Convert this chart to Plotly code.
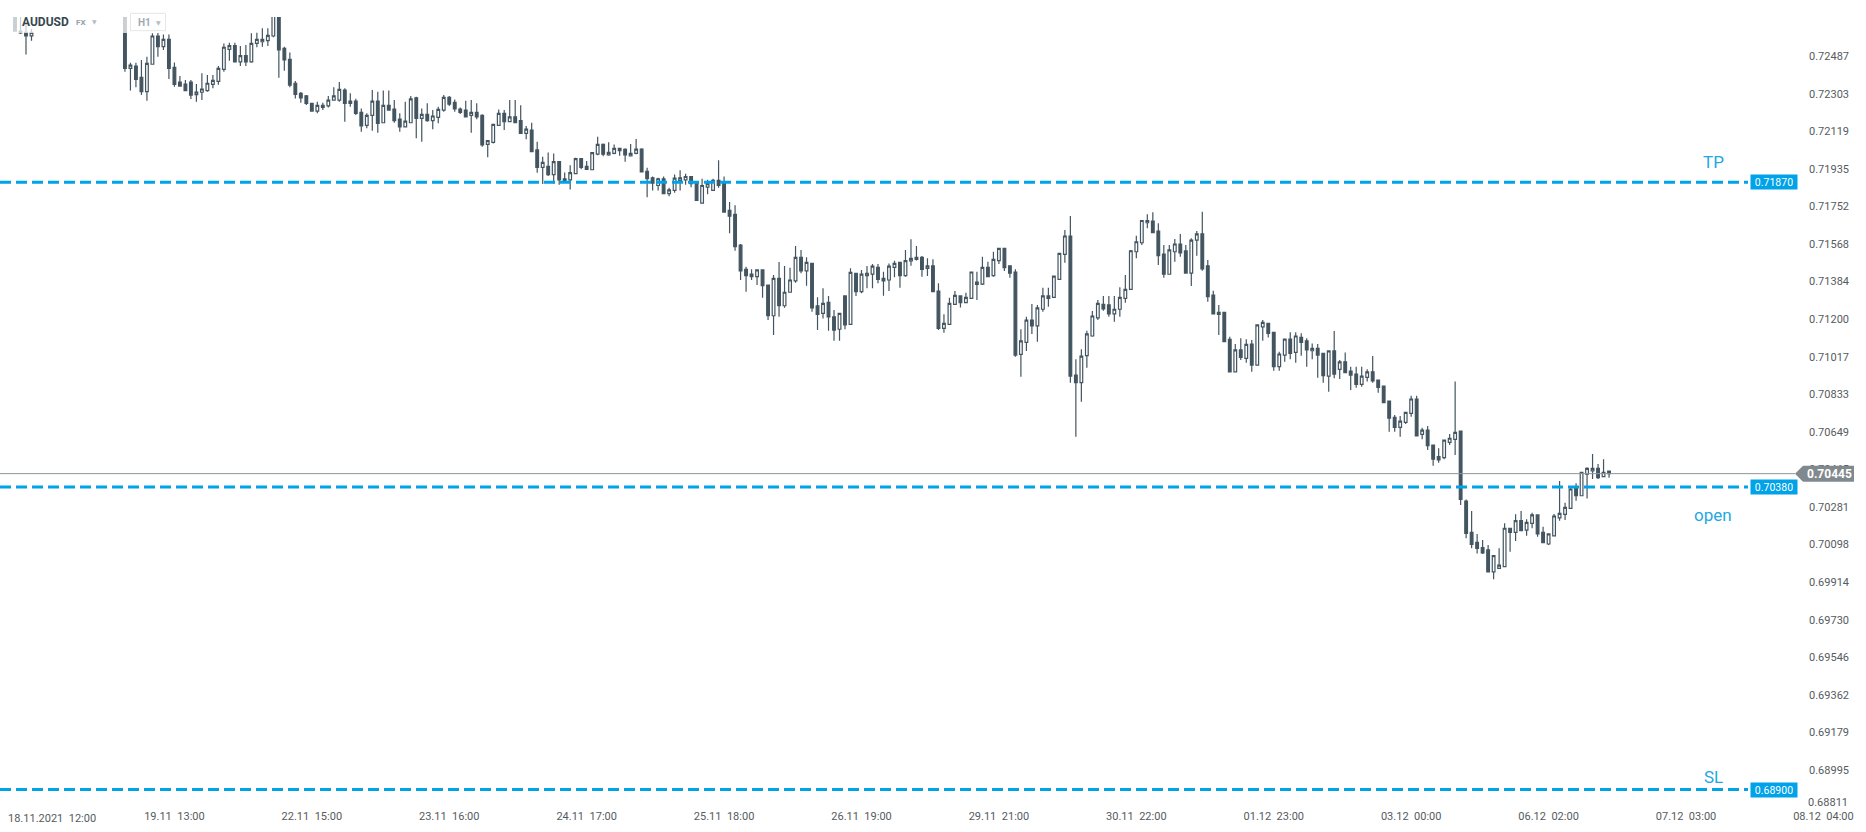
import plotly.graph_objects as go

# ---------------- data ----------------
symbol = "AUDUSD"
market = "FX"
timeframe = "H1"

first_bar = -4  # bar index of first candle (index 0 = 18.11.2021 12:00)
# bars 0..15 lie entirely above the visible price range -> not readable (None)
opens = [0.72700, 0.72600, 0.72603, 0.72586] + [None] * 16 + [
    0.72700, 0.72427, 0.72438, 0.72383, 0.72313, 0.72447, 0.72585, 0.72533, 0.72569, 0.72432,
    0.72360, 0.72350, 0.72360, 0.72298, 0.72310, 0.72318, 0.72349, 0.72363, 0.72422, 0.72520,
    0.72538, 0.72459, 0.72489, 0.72459, 0.72549, 0.72557, 0.72562, 0.72585, 0.72690, 0.72525,
    0.72471, 0.72354, 0.72305, 0.72292, 0.72256, 0.72218, 0.72236, 0.72243, 0.72272, 0.72272,
    0.72321, 0.72256, 0.72267, 0.72212, 0.72148, 0.72197, 0.72267, 0.72161, 0.72246, 0.72228,
    0.72179, 0.72141, 0.72161, 0.72283, 0.72182, 0.72202, 0.72171, 0.72187, 0.72223, 0.72285,
    0.72261, 0.72228, 0.72223, 0.72197, 0.72212, 0.72197, 0.72055, 0.72065, 0.72148, 0.72207,
    0.72166, 0.72190, 0.72171, 0.72109, 0.72125, 0.72028, 0.71943, 0.71948, 0.71907, 0.71971,
    0.71887, 0.71882, 0.71912, 0.71985, 0.71948, 0.71931, 0.72007, 0.72055, 0.72004, 0.72011,
    0.72036, 0.72031, 0.71999, 0.72011, 0.72032, 0.71923, 0.71892, 0.71854, 0.71887, 0.71814,
    0.71830, 0.71879, 0.71882, 0.71898, 0.71863, 0.71768, 0.71846, 0.71830, 0.71879, 0.71866,
    0.71732, 0.71713, 0.71563, 0.71444, 0.71421, 0.71408, 0.71441, 0.71367, 0.71217, 0.71400,
    0.71266, 0.71332, 0.71388, 0.71503, 0.71437, 0.71473, 0.71265, 0.71229, 0.71283, 0.71212,
    0.71151, 0.71314, 0.71175, 0.71425, 0.71335, 0.71413, 0.71421, 0.71454, 0.71400, 0.71392,
    0.71454, 0.71478, 0.71413, 0.71485, 0.71493, 0.71503, 0.71449, 0.71461, 0.71338, 0.71155,
    0.71175, 0.71273, 0.71314, 0.71281, 0.71302, 0.71371, 0.71372, 0.71454, 0.71413, 0.71487,
    0.71547, 0.71461, 0.71431, 0.71028, 0.71087, 0.71196, 0.71168, 0.71249, 0.71314, 0.71307,
    0.71395, 0.71517, 0.71607, 0.70927, 0.70890, 0.71022, 0.71118, 0.71207, 0.71273, 0.71270,
    0.71226, 0.71249, 0.71302, 0.71346, 0.71530, 0.71574, 0.71672, 0.71680, 0.71631, 0.71519,
    0.71420, 0.71530, 0.71568, 0.71534, 0.71426, 0.71587, 0.71617, 0.71461, 0.71318, 0.71224,
    0.71234, 0.71102, 0.70943, 0.71050, 0.71009, 0.71079, 0.70976, 0.71163, 0.71180, 0.71136,
    0.70968, 0.71025, 0.71103, 0.71038, 0.71111, 0.71094, 0.71046, 0.71058, 0.71033, 0.70922,
    0.71045, 0.70955, 0.70992, 0.70947, 0.70932, 0.70882, 0.70916, 0.70943, 0.70903, 0.70873,
    0.70800, 0.70720, 0.70671, 0.70696, 0.70740, 0.70810, 0.70637, 0.70658, 0.70585, 0.70528,
    0.70523, 0.70598, 0.70613, 0.70653, 0.70311, 0.70158, 0.70109, 0.70083, 0.70072, 0.69965,
    0.69982, 0.69990, 0.70178, 0.70158, 0.70215, 0.70169, 0.70202, 0.70243, 0.70158, 0.70101,
    0.70141, 0.70229, 0.70246, 0.70275, 0.70373, 0.70337, 0.70442, 0.70459, 0.70471, 0.70430,
    0.70458,
]
highs = [0.72720, 0.72700, 0.72640, 0.72620] + [None] * 16 + [
    0.72720, 0.72454, 0.72454, 0.72468, 0.72484, 0.72598, 0.72600, 0.72593, 0.72593, 0.72456,
    0.72389, 0.72370, 0.72370, 0.72350, 0.72403, 0.72394, 0.72394, 0.72438, 0.72549, 0.72552,
    0.72552, 0.72536, 0.72541, 0.72598, 0.72601, 0.72623, 0.72623, 0.72720, 0.72730, 0.72533,
    0.72505, 0.72365, 0.72311, 0.72296, 0.72259, 0.72264, 0.72259, 0.72292, 0.72334, 0.72360,
    0.72329, 0.72305, 0.72278, 0.72231, 0.72207, 0.72321, 0.72313, 0.72318, 0.72318, 0.72272,
    0.72207, 0.72264, 0.72292, 0.72288, 0.72231, 0.72256, 0.72223, 0.72239, 0.72296, 0.72292,
    0.72275, 0.72236, 0.72269, 0.72272, 0.72256, 0.72202, 0.72076, 0.72153, 0.72226, 0.72223,
    0.72272, 0.72272, 0.72246, 0.72145, 0.72161, 0.72068, 0.71995, 0.72015, 0.72010, 0.71971,
    0.71918, 0.71953, 0.71990, 0.71985, 0.71974, 0.72015, 0.72092, 0.72060, 0.72065, 0.72055,
    0.72036, 0.72036, 0.72057, 0.72081, 0.72036, 0.71941, 0.71898, 0.71892, 0.71898, 0.71843,
    0.71908, 0.71928, 0.71912, 0.71898, 0.71866, 0.71887, 0.71882, 0.71887, 0.71977, 0.71898,
    0.71773, 0.71757, 0.71568, 0.71457, 0.71444, 0.71441, 0.71441, 0.71367, 0.71416, 0.71480,
    0.71460, 0.71452, 0.71558, 0.71539, 0.71503, 0.71473, 0.71307, 0.71351, 0.71314, 0.71245,
    0.71229, 0.71314, 0.71449, 0.71425, 0.71441, 0.71460, 0.71470, 0.71470, 0.71432, 0.71473,
    0.71486, 0.71478, 0.71539, 0.71591, 0.71558, 0.71509, 0.71498, 0.71493, 0.71376, 0.71224,
    0.71305, 0.71338, 0.71314, 0.71330, 0.71431, 0.71432, 0.71506, 0.71481, 0.71530, 0.71547,
    0.71547, 0.71461, 0.71444, 0.71151, 0.71212, 0.71274, 0.71270, 0.71354, 0.71354, 0.71411,
    0.71522, 0.71636, 0.71705, 0.71004, 0.71053, 0.71144, 0.71240, 0.71294, 0.71314, 0.71314,
    0.71314, 0.71356, 0.71416, 0.71539, 0.71608, 0.71683, 0.71714, 0.71723, 0.71669, 0.71563,
    0.71563, 0.71592, 0.71617, 0.71563, 0.71596, 0.71631, 0.71726, 0.71490, 0.71339, 0.71270,
    0.71234, 0.71115, 0.71079, 0.71107, 0.71102, 0.71098, 0.71172, 0.71196, 0.71180, 0.71136,
    0.71041, 0.71103, 0.71137, 0.71136, 0.71131, 0.71107, 0.71082, 0.71079, 0.71033, 0.71045,
    0.71142, 0.71001, 0.71038, 0.70968, 0.70968, 0.70968, 0.70955, 0.71020, 0.70903, 0.70873,
    0.70800, 0.70732, 0.70727, 0.70745, 0.70826, 0.70826, 0.70670, 0.70678, 0.70585, 0.70569,
    0.70609, 0.70639, 0.70896, 0.70653, 0.70319, 0.70262, 0.70150, 0.70120, 0.70096, 0.70047,
    0.70080, 0.70202, 0.70178, 0.70246, 0.70262, 0.70222, 0.70254, 0.70246, 0.70185, 0.70150,
    0.70248, 0.70409, 0.70303, 0.70385, 0.70398, 0.70451, 0.70476, 0.70541, 0.70492, 0.70515,
    0.70458,
]
lows = [0.72609, 0.72595, 0.72495, 0.72562] + [None] * 16 + [
    0.72410, 0.72318, 0.72334, 0.72296, 0.72269, 0.72447, 0.72484, 0.72517, 0.72375, 0.72337,
    0.72337, 0.72318, 0.72277, 0.72264, 0.72272, 0.72313, 0.72329, 0.72347, 0.72410, 0.72464,
    0.72459, 0.72438, 0.72438, 0.72454, 0.72530, 0.72533, 0.72536, 0.72579, 0.72381, 0.72415,
    0.72334, 0.72280, 0.72259, 0.72248, 0.72215, 0.72207, 0.72223, 0.72236, 0.72269, 0.72264,
    0.72166, 0.72239, 0.72199, 0.72117, 0.72134, 0.72122, 0.72112, 0.72161, 0.72223, 0.72161,
    0.72117, 0.72141, 0.72161, 0.72085, 0.72068, 0.72166, 0.72129, 0.72158, 0.72215, 0.72243,
    0.72215, 0.72204, 0.72187, 0.72112, 0.72178, 0.72044, 0.71992, 0.72060, 0.72145, 0.72125,
    0.72163, 0.72161, 0.72109, 0.72080, 0.72019, 0.71916, 0.71861, 0.71900, 0.71863, 0.71858,
    0.71866, 0.71835, 0.71912, 0.71933, 0.71933, 0.71928, 0.72002, 0.71997, 0.71999, 0.72007,
    0.71999, 0.71970, 0.71999, 0.72007, 0.71920, 0.71797, 0.71830, 0.71830, 0.71814, 0.71801,
    0.71819, 0.71830, 0.71858, 0.71846, 0.71778, 0.71768, 0.71811, 0.71827, 0.71843, 0.71724,
    0.71621, 0.71535, 0.71392, 0.71335, 0.71392, 0.71367, 0.71305, 0.71196, 0.71123, 0.71212,
    0.71256, 0.71332, 0.71379, 0.71425, 0.71364, 0.71237, 0.71147, 0.71204, 0.71144, 0.71095,
    0.71095, 0.71151, 0.71175, 0.71314, 0.71327, 0.71351, 0.71351, 0.71376, 0.71315, 0.71338,
    0.71405, 0.71354, 0.71408, 0.71461, 0.71487, 0.71408, 0.71411, 0.71335, 0.71147, 0.71134,
    0.71175, 0.71270, 0.71258, 0.71281, 0.71302, 0.71294, 0.71367, 0.71408, 0.71408, 0.71470,
    0.71436, 0.71403, 0.71017, 0.70919, 0.71045, 0.71128, 0.71090, 0.71237, 0.71261, 0.71307,
    0.71392, 0.71476, 0.70890, 0.70625, 0.70797, 0.70963, 0.71115, 0.71196, 0.71242, 0.71212,
    0.71188, 0.71212, 0.71281, 0.71343, 0.71498, 0.71563, 0.71645, 0.71623, 0.71465, 0.71403,
    0.71420, 0.71481, 0.71506, 0.71426, 0.71362, 0.71511, 0.71437, 0.71286, 0.71226, 0.71123,
    0.71090, 0.70943, 0.70943, 0.71001, 0.70987, 0.70943, 0.70976, 0.71095, 0.71111, 0.70948,
    0.70948, 0.70992, 0.71005, 0.70987, 0.71022, 0.70968, 0.71005, 0.70914, 0.70890, 0.70846,
    0.70911, 0.70908, 0.70936, 0.70854, 0.70865, 0.70870, 0.70896, 0.70890, 0.70841, 0.70792,
    0.70650, 0.70650, 0.70625, 0.70688, 0.70723, 0.70630, 0.70613, 0.70561, 0.70484, 0.70498,
    0.70515, 0.70585, 0.70536, 0.70292, 0.70129, 0.70080, 0.70055, 0.70052, 0.69965, 0.69928,
    0.69982, 0.69990, 0.70063, 0.70116, 0.70166, 0.70141, 0.70178, 0.70137, 0.70107, 0.70096,
    0.70141, 0.70215, 0.70218, 0.70272, 0.70313, 0.70337, 0.70324, 0.70419, 0.70419, 0.70430,
    0.70425,
]
closes = [0.72609, 0.72609, 0.72586, 0.72603] + [None] * 16 + [
    0.72427, 0.72443, 0.72373, 0.72313, 0.72451, 0.72585, 0.72533, 0.72569, 0.72427, 0.72349,
    0.72340, 0.72318, 0.72296, 0.72311, 0.72326, 0.72354, 0.72368, 0.72427, 0.72530, 0.72538,
    0.72459, 0.72489, 0.72459, 0.72549, 0.72569, 0.72569, 0.72588, 0.72690, 0.72517, 0.72468,
    0.72345, 0.72300, 0.72283, 0.72256, 0.72218, 0.72246, 0.72246, 0.72272, 0.72292, 0.72324,
    0.72256, 0.72267, 0.72207, 0.72145, 0.72197, 0.72267, 0.72158, 0.72246, 0.72223, 0.72171,
    0.72141, 0.72169, 0.72278, 0.72182, 0.72202, 0.72171, 0.72194, 0.72226, 0.72285, 0.72252,
    0.72228, 0.72212, 0.72190, 0.72212, 0.72190, 0.72052, 0.72073, 0.72153, 0.72207, 0.72166,
    0.72190, 0.72161, 0.72109, 0.72130, 0.72019, 0.71943, 0.71967, 0.71907, 0.71971, 0.71882,
    0.71874, 0.71917, 0.71985, 0.71943, 0.71933, 0.72015, 0.72055, 0.72007, 0.72016, 0.72036,
    0.72024, 0.72004, 0.72011, 0.72032, 0.71920, 0.71887, 0.71866, 0.71887, 0.71814, 0.71833,
    0.71890, 0.71892, 0.71898, 0.71863, 0.71781, 0.71854, 0.71863, 0.71879, 0.71854, 0.71724,
    0.71704, 0.71555, 0.71437, 0.71413, 0.71408, 0.71441, 0.71364, 0.71217, 0.71400, 0.71266,
    0.71332, 0.71392, 0.71503, 0.71437, 0.71478, 0.71256, 0.71224, 0.71278, 0.71212, 0.71147,
    0.71229, 0.71172, 0.71429, 0.71335, 0.71421, 0.71425, 0.71460, 0.71395, 0.71388, 0.71460,
    0.71473, 0.71413, 0.71487, 0.71498, 0.71503, 0.71444, 0.71461, 0.71335, 0.71155, 0.71180,
    0.71278, 0.71317, 0.71281, 0.71307, 0.71431, 0.71382, 0.71454, 0.71408, 0.71493, 0.71547,
    0.71452, 0.71425, 0.71025, 0.71094, 0.71196, 0.71168, 0.71256, 0.71314, 0.71302, 0.71411,
    0.71522, 0.71607, 0.70922, 0.70890, 0.71020, 0.71128, 0.71216, 0.71278, 0.71250, 0.71226,
    0.71249, 0.71307, 0.71346, 0.71535, 0.71579, 0.71683, 0.71683, 0.71623, 0.71511, 0.71420,
    0.71539, 0.71568, 0.71525, 0.71426, 0.71587, 0.71617, 0.71446, 0.71310, 0.71226, 0.71234,
    0.71090, 0.70943, 0.71050, 0.71014, 0.71077, 0.70976, 0.71172, 0.71185, 0.71131, 0.70968,
    0.71030, 0.71103, 0.71033, 0.71118, 0.71087, 0.71050, 0.71058, 0.71025, 0.70924, 0.71045,
    0.70932, 0.70992, 0.70939, 0.70927, 0.70882, 0.70922, 0.70943, 0.70899, 0.70867, 0.70792,
    0.70716, 0.70671, 0.70702, 0.70745, 0.70810, 0.70630, 0.70658, 0.70582, 0.70516, 0.70512,
    0.70609, 0.70618, 0.70647, 0.70319, 0.70153, 0.70099, 0.70080, 0.70058, 0.69965, 0.70044,
    0.69998, 0.70178, 0.70158, 0.70215, 0.70166, 0.70207, 0.70243, 0.70150, 0.70107, 0.70150,
    0.70238, 0.70251, 0.70280, 0.70370, 0.70337, 0.70451, 0.70471, 0.70471, 0.70425, 0.70451,
    0.70445,
]
bar_index = list(range(first_bar, first_bar + len(opens)))

x_tick_bars = [25, 50, 75, 100, 125, 150, 175, 200, 225, 250, 275, 300, 325]
x_tick_text = ["19.11  13:00", "22.11  15:00", "23.11  16:00", "24.11  17:00", "25.11  18:00",
               "26.11  19:00", "29.11  21:00", "30.11  22:00", "01.12  23:00", "03.12  00:00",
               "06.12  02:00", "07.12  03:00", "08.12  04:00"]
first_x_label = "18.11.2021  12:00"

y_ticks = [0.72487, 0.72303, 0.72119, 0.71935, 0.71752, 0.71568, 0.71384, 0.71200, 0.71017,
           0.70833, 0.70649, 0.70465, 0.70281, 0.70098, 0.69914, 0.69730, 0.69546, 0.69362,
           0.69179, 0.68995]
y_tick_bottom = 0.68811  # drawn nudged upward (as in the reference) to clear the time axis

level_names = ["TP", "open", "SL"]
level_values = [0.71870, 0.70380, 0.68900]
current_price = 0.70445

# ---------------- style / layout ----------------
W, H = 1866, 832
ML, MR, MT, MB = 0, 14, 17, 24
PW, PH = W - ML - MR, H - MT - MB
CANDLE = "#435560"
BLUE = "#00a2e8"
BLUE_TXT = "#22a7e3"
GRAY_TAG = "#80898e"
TICK_COLOR = "#555b60"
FONT = "Roboto"


def px_x(x):
    return (x - ML) / PW


def px_y(y):
    return (H - MB - y) / PH


def nbsp(s):
    return s.replace("  ", "\u00a0\u00a0")


fig = go.Figure()
fig.add_trace(go.Candlestick(
    x=bar_index, open=opens, high=highs, low=lows, close=closes,
    increasing=dict(line=dict(color=CANDLE, width=1.2), fillcolor="#ffffff"),
    decreasing=dict(line=dict(color=CANDLE, width=1.2), fillcolor=CANDLE),
    whiskerwidth=0, hoverinfo="skip", showlegend=False,
))

shapes = []
annotations = []

# horizontal order levels
label_offsets = {"TP": 20, "open": -28, "SL": 13}
for name, val in zip(level_names, level_values):
    shapes.append(dict(type="line", xref="paper", yref="y", x0=0, x1=px_x(1748), y0=val, y1=val,
                       line=dict(color=BLUE, width=3, dash="11px,5px"), layer="above"))
    annotations.append(dict(xref="paper", yref="y", x=px_x(1713), y=val, yshift=label_offsets[name],
                            text=name, showarrow=False, xanchor="center", yanchor="middle",
                            font=dict(family=FONT, size=17, color=BLUE_TXT)))
    annotations.append(dict(xref="paper", yref="y", x=px_x(1750), y=val, text=f"{val:.5f}",
                            showarrow=False, xanchor="left", yanchor="middle", bgcolor=BLUE,
                            width=44, height=12, borderpad=1,
                            font=dict(family=FONT, size=10.5, color="#ffffff")))

# current price line + tag
shapes.append(dict(type="line", xref="paper", yref="y", x0=0, x1=px_x(1795), y0=current_price,
                   y1=current_price, line=dict(color="#8d969a", width=1), layer="above"))
shapes.append(dict(type="path", xref="paper", yref="y", xsizemode="pixel", ysizemode="pixel",
                   xanchor=1, yanchor=current_price,
                   path="M -57,0 L -49,8 L 2,8 L 2,-8 L -49,-8 Z",
                   fillcolor=GRAY_TAG, line=dict(width=0), layer="above"))
annotations.append(dict(xref="paper", yref="y", x=1, xshift=-23, y=current_price,
                        text=f"<b>{current_price:.5f}</b>", showarrow=False, xanchor="center",
                        yanchor="middle", font=dict(family=FONT, size=12, color="#ffffff")))

# lowest price label, nudged up like the reference
annotations.append(dict(xref="paper", yref="y", x=1, xshift=-2, y=y_tick_bottom, yshift=5,
                        text=f"{y_tick_bottom:.5f}", showarrow=False, xanchor="right",
                        yanchor="middle", font=dict(family=FONT, size=11, color=TICK_COLOR)))

# header overlay & chips
shapes.append(dict(type="rect", xref="paper", yref="paper", x0=0, x1=px_x(170), y0=px_y(33),
                   y1=px_y(14), fillcolor="rgba(255,255,255,0.72)", line=dict(width=0), layer="above"))
shapes.append(dict(type="rect", xref="paper", yref="paper", x0=px_x(130.5), x1=px_x(165.5),
                   y0=px_y(30.7), y1=px_y(13.3), fillcolor="#ffffff",
                   line=dict(color="#e3e6e8", width=1), layer="above"))
annotations += [
    dict(xref="paper", yref="paper", x=px_x(20), y=px_y(22.5), text=f"<b>{symbol}</b>",
         showarrow=False, xanchor="left", yanchor="middle",
         font=dict(family=FONT, size=12, color="#37474f")),
    dict(xref="paper", yref="paper", x=px_x(74), y=px_y(22.5), text=f"<b>{market}</b>",
         showarrow=False, xanchor="left", yanchor="middle",
         font=dict(family=FONT, size=8, color="#8fa1ab")),
    dict(xref="paper", yref="paper", x=px_x(94), y=px_y(21.5), text="▼",
         showarrow=False, xanchor="center", yanchor="middle",
         font=dict(family="DejaVu Sans", size=6, color="#b4bdc2")),
    dict(xref="paper", yref="paper", x=px_x(135.5), y=px_y(22), text=f"<b>{timeframe}</b>",
         showarrow=False, xanchor="left", yanchor="middle",
         font=dict(family=FONT, size=10, color="#a2aaaf")),
    dict(xref="paper", yref="paper", x=px_x(158.5), y=px_y(22.5), text="▼",
         showarrow=False, xanchor="center", yanchor="middle",
         font=dict(family="DejaVu Sans", size=6, color="#b4bdc2")),
    dict(xref="paper", yref="paper", x=px_x(6), y=0, yshift=-2, text=nbsp(first_x_label),
         showarrow=False, xanchor="left", yanchor="top",
         font=dict(family=FONT, size=11, color=TICK_COLOR)),
]

fig.update_layout(
    width=W, height=H, margin=dict(l=ML, r=MR, t=MT, b=MB, pad=0),
    paper_bgcolor="#ffffff", plot_bgcolor="#ffffff",
    shapes=shapes, annotations=annotations, showlegend=False, dragmode=False,
    xaxis=dict(range=[-6.73, 330.2], tickvals=x_tick_bars, ticktext=[nbsp(t) for t in x_tick_text],
               showgrid=False, zeroline=False, showline=False, ticks="",
               tickfont=dict(family=FONT, size=11, color=TICK_COLOR),
               rangeslider=dict(visible=False), fixedrange=True),
    yaxis=dict(range=[0.68810, 0.72678], side="right", ticklabelposition="inside",
               ticklabeloverflow="allow", tickvals=y_ticks, ticktext=[f"{v:.5f}" for v in y_ticks],
               showgrid=False, zeroline=False, showline=False, ticks="",
               tickfont=dict(family=FONT, size=11, color=TICK_COLOR), fixedrange=True),
)

fig.write_html("out.html", config={"displayModeBar": False, "staticPlot": True},
               post_script="document.body.style.margin='0';document.body.style.overflow='hidden';")
